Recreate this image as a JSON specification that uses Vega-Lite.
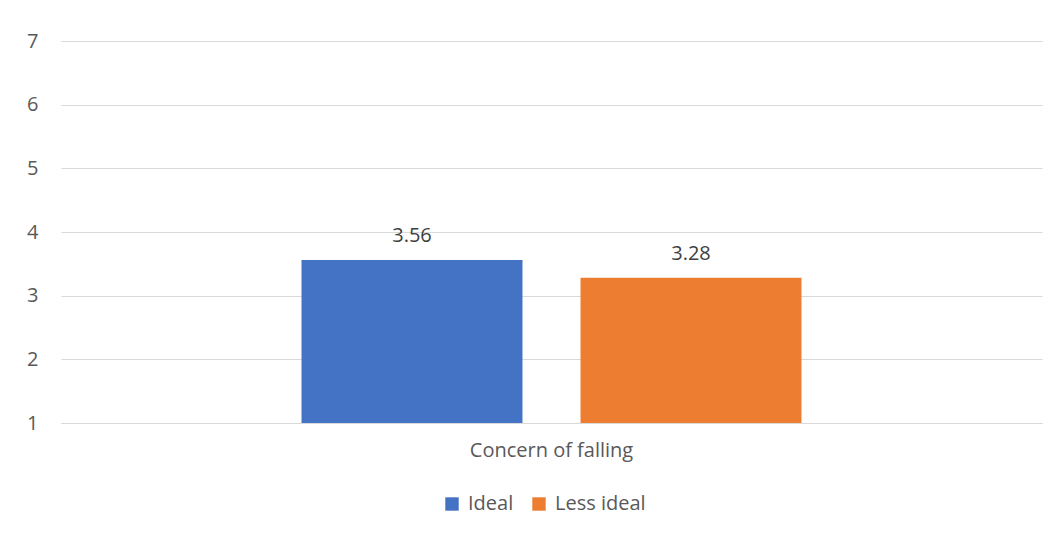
{
  "$schema": "https://vega.github.io/schema/vega-lite/v6.json",
  "width": 981,
  "height": 382,
  "autosize": {"type": "none"},
  "padding": {"left": 61, "top": 41, "right": 13, "bottom": 117},
  "background": "white",
  "data": {
    "values": [
      {"measure": "Concern of falling", "group": "Ideal", "score": 3.56},
      {"measure": "Concern of falling", "group": "Less ideal", "score": 3.28}
    ]
  },
  "encoding": {
    "x": {
      "field": "measure",
      "type": "nominal",
      "scale": {"paddingInner": 0, "paddingOuter": 0},
      "axis": {
        "title": null,
        "labelAngle": 0,
        "ticks": false,
        "domainColor": "#d9d9d9",
        "labelPadding": 17
      }
    },
    "xOffset": {
      "field": "group",
      "type": "nominal",
      "sort": ["Ideal", "Less ideal"],
      "scale": {"paddingInner": 0.208, "paddingOuter": 0.862}
    },
    "color": {
      "field": "group",
      "type": "nominal",
      "sort": ["Ideal", "Less ideal"],
      "scale": {"domain": ["Ideal", "Less ideal"], "range": ["#4472C4", "#ED7D31"]},
      "legend": {
        "title": null,
        "orient": "none",
        "legendX": 381,
        "legendY": 453,
        "direction": "horizontal",
        "symbolType": "square",
        "symbolSize": 180,
        "symbolStrokeWidth": 0,
        "labelOffset": 6,
        "columnPadding": 15
      }
    },
    "y": {
      "field": "score",
      "type": "quantitative",
      "scale": {"domain": [1, 7], "nice": false, "zero": false},
      "axis": {
        "title": null,
        "values": [1, 2, 3, 4, 5, 6, 7],
        "domain": false,
        "ticks": false,
        "grid": true,
        "gridColor": "#d9d9d9",
        "labelPadding": 23
      }
    }
  },
  "layer": [
    {
      "mark": {"type": "bar"},
      "encoding": {"y2": {"datum": 1}}
    },
    {
      "mark": {"type": "text", "baseline": "bottom", "dy": -14, "fontSize": 20},
      "encoding": {
        "text": {"field": "score", "type": "quantitative", "format": ".2f"},
        "color": {"value": "#404040"}
      }
    }
  ],
  "config": {
    "font": "Open Sans",
    "view": {"stroke": null},
    "axis": {
      "labelFont": "Open Sans",
      "labelFontSize": 20,
      "labelColor": "#595959"
    },
    "legend": {
      "labelFont": "Open Sans",
      "labelFontSize": 20,
      "labelColor": "#595959"
    }
  }
}
